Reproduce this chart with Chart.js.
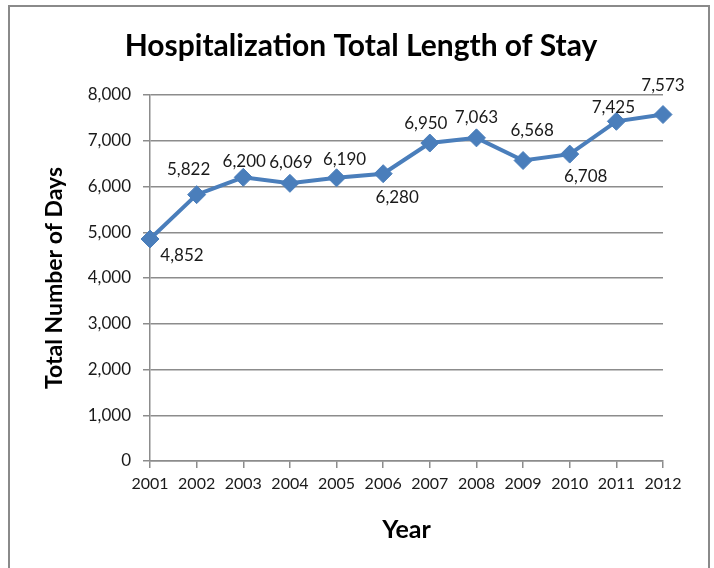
<!DOCTYPE html>
<html>
<head>
<meta charset="utf-8">
<script src="https://cdn.jsdelivr.net/npm/chart.js@4.4.1/dist/chart.umd.min.js"></script>
<style>
  html, body { margin: 0; padding: 0; background: #fff; overflow: hidden; }
  #wrap { position: relative; width: 714px; height: 568px; }
  #frame { position: absolute; left: 8px; top: 5px; width: 698px; height: 600px; border: 2px solid #8a8a8a; }
  canvas { position: absolute; left: 0; top: 0; }
</style>
</head>
<body>
<div id="wrap">
  <div id="frame"></div>
  <canvas id="chart" width="714" height="568"></canvas>
</div>
<script>
const years = ["2001", "2002", "2003", "2004", "2005", "2006", "2007", "2008", "2009", "2010", "2011", "2012"];
const totalDays = [4852, 5822, 6200, 6069, 6190, 6280, 6950, 7063, 6568, 6708, 7425, 7573];
const yTicks = [0, 1000, 2000, 3000, 4000, 5000, 6000, 7000, 8000];

const lineColor = "#4a7ebb";
const gridColor = "#8c8c8c";
const font = "Lato";

// value labels drawn next to each point (offsets in px from the marker)
const valueLabels = {
  id: "valueLabels",
  afterDatasetsDraw(chart, args, opts) {
    const ctx = chart.ctx;
    const meta = chart.getDatasetMeta(0);
    const data = chart.data.datasets[0].data;
    ctx.save();
    ctx.font = opts.size + "px " + font;
    ctx.fillStyle = "#1a1a1a";
    ctx.textAlign = "center";
    ctx.textBaseline = "middle";
    meta.data.forEach((pt, i) => {
      const off = opts.offsets[i];
      ctx.fillText(data[i].toLocaleString("en-US"), pt.x + off[0], pt.y + off[1]);
    });
    ctx.restore();
  },
};

// chart title, centred on the whole frame rather than the layout box
const frameTitle = {
  id: "frameTitle",
  afterDraw(chart, args, opts) {
    const ctx = chart.ctx;
    ctx.save();
    ctx.font = "bold " + opts.size + "px " + font;
    ctx.fillStyle = "#000";
    ctx.textAlign = "center";
    ctx.textBaseline = "middle";
    ctx.fillText(opts.text, opts.x, opts.y);
    ctx.restore();
  },
};

const chartConfig = {
  type: "line",
  data: {
    labels: years,
    datasets: [
      {
        label: "Total Length of Stay",
        data: totalDays,
        borderColor: lineColor,
        backgroundColor: lineColor,
        borderWidth: 4,
        pointStyle: "rectRot",
        pointRadius: 9,
        pointBorderWidth: 1,
        pointBackgroundColor: lineColor,
        pointBorderColor: lineColor,
        tension: 0,
      },
    ],
  },
  options: {
    responsive: false,
    animation: false,
    layout: { padding: { left: 10, right: 51, top: 95, bottom: 0 } },
    scales: {
      x: {
        offset: false,
        grid: { display: true, drawOnChartArea: false, drawTicks: true, tickLength: 7, color: gridColor, lineWidth: 1.5 },
        border: { display: true, color: gridColor, width: 1.5 },
        ticks: { color: "#1a1a1a", font: { family: font, size: 16 }, padding: 6, maxRotation: 0, autoSkip: false },
        title: { display: true, text: "Year", color: "#000", font: { family: font, size: 25, weight: "bold" }, padding: { top: 0, bottom: 23 } },
        afterFit(scale) { scale.height = 107; },
      },
      y: {
        min: 0,
        max: 8000,
        afterBuildTicks(scale) { scale.ticks = yTicks.map((v) => ({ value: v })); },
        grid: { color: gridColor, lineWidth: 1.5, tickLength: 7 },
        border: { display: true, color: gridColor, width: 1.5 },
        ticks: {
          color: "#1a1a1a",
          font: { family: font, size: 17 },
          padding: 12,
          callback: (v) => v.toLocaleString("en-US"),
        },
        title: { display: true, text: "Total Number of Days", color: "#000", font: { family: font, size: 23, weight: "bold" }, padding: { top: 31, bottom: 0 } },
        afterFit(scale) { scale.width = 140; },
      },
    },
    plugins: {
      legend: { display: false },
      tooltip: { enabled: false },
      title: { display: false },
      frameTitle: { text: "Hospitalization Total Length of Stay", size: 30, x: 361, y: 46 },
      valueLabels: {
        size: 17,
        offsets: [
          [32, 16], [-8, -25], [1, -16], [1, -21], [8, -18], [14, 24],
          [-4, -20], [0, -20], [9, -30], [16, 22], [-3, -14], [0, -29],
        ],
      },
    },
  },
  plugins: [valueLabels, frameTitle],
};

new Chart(document.getElementById("chart").getContext("2d"), chartConfig);
</script>
</body>
</html>
